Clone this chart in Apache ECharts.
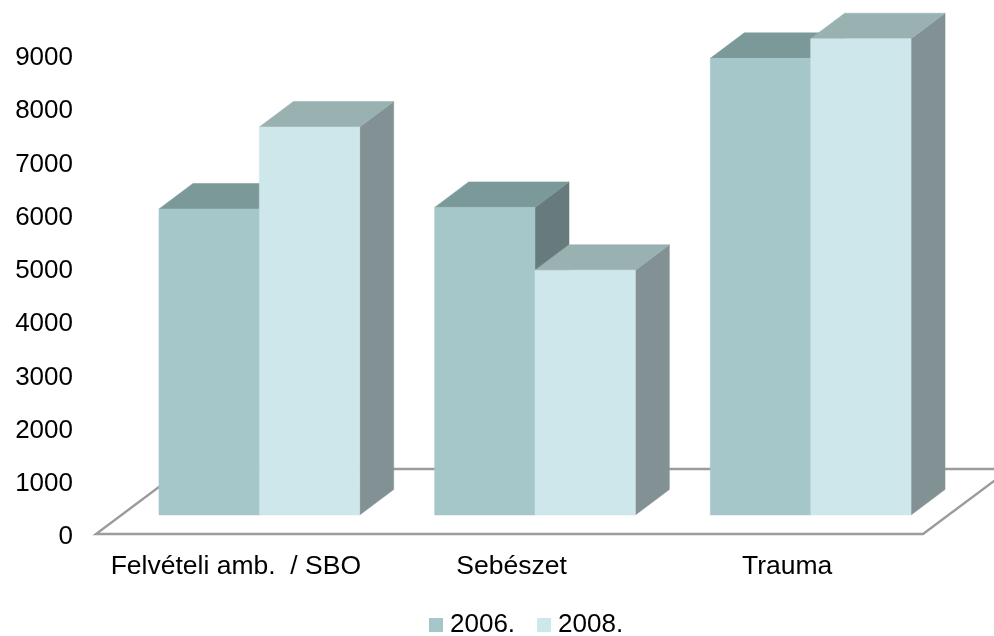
<!DOCTYPE html>
<html><head><meta charset="utf-8">
<style>html,body{margin:0;padding:0;background:#fff}#c{width:994px;height:636px}</style>
<script src="https://cdn.jsdelivr.net/npm/echarts@6/dist/echarts.min.js"></script>
</head><body><div id="c"></div>
<script>
const categories = ['Felvételi amb.  / SBO', 'Sebészet', 'Trauma'];
const values2006 = [5750, 5780, 8580];
const values2008 = [7290, 4600, 8950];
const yMax = 9000, yStep = 1000;

const depth = {dx: 34, dy: -25.5};
const floorDepth = {dx: 87, dy: -65};
const lift = {dx: 25.5, dy: -19};
const barFrac = 100.5 / 276;

function barRender(sign, colors) {
  return function (params, api) {
    const band = api.size([1, 0])[0];
    const w = band * barFrac;
    const top = api.coord([api.value(0), api.value(1)]);
    const base = api.coord([api.value(0), 0]);
    const cx = top[0] + lift.dx;
    const x0 = sign < 0 ? cx - w : cx, x1 = x0 + w;
    const yT = top[1] + lift.dy, yB = base[1] + lift.dy;
    const poly = (pts, fill) => ({type: 'polygon', shape: {points: pts},
      style: {fill, stroke: fill, lineWidth: 0.5}});
    return {type: 'group', children: [
      poly([[x1, yB], [x1 + depth.dx, yB + depth.dy], [x1 + depth.dx, yT + depth.dy], [x1, yT]], colors.side),
      poly([[x0, yT], [x1, yT], [x1 + depth.dx, yT + depth.dy], [x0 + depth.dx, yT + depth.dy]], colors.top),
      poly([[x0, yB], [x1, yB], [x1, yT], [x0, yT]], colors.front)
    ]};
  };
}

function floorRender(params, api) {
  const a = api.coord([0, 0]), b = api.coord([2, 0]);
  const band = api.size([1, 0])[0];
  const L = a[0] - band / 2, R = b[0] + band / 2, y = a[1];
  const style = {fill: 'none', stroke: '#9c9c9c', lineWidth: 2.4};
  return {type: 'group', children: [
    {type: 'polyline', shape: {points: [
      [L + floorDepth.dx, y + floorDepth.dy], [L, y], [R, y], [R + floorDepth.dx, y + floorDepth.dy]
    ]}, style},
    {type: 'line', shape: {x1: L + floorDepth.dx, y1: y + floorDepth.dy,
      x2: R + floorDepth.dx, y2: y + floorDepth.dy}, style}
  ]};
}

const chart = echarts.init(document.getElementById('c'), null, {renderer: 'canvas'});
const font = '"Liberation Sans", Arial, sans-serif';
chart.setOption({
  animation: false,
  backgroundColor: '#fff',
  grid: {left: 96, right: 71, top: 55, bottom: 102},
  legend: {
    data: ['2006.', '2008.'], left: 424, top: 607, itemWidth: 14, itemHeight: 14, itemGap: 22,
    icon: 'rect',
    textStyle: {color: '#000', fontSize: 26, fontFamily: font, padding: [2, 0, 0, 2]}
  },
  xAxis: {
    type: 'category', data: categories,
    axisLine: {show: false}, axisTick: {show: false}, splitLine: {show: false},
    axisLabel: {color: '#000', fontSize: 26.5, fontFamily: font, margin: 19, interval: 0, padding: [0, 0, 0, 4]}
  },
  yAxis: {
    type: 'value', min: 0, max: yMax, interval: yStep,
    axisLine: {show: false}, axisTick: {show: false}, splitLine: {show: false},
    axisLabel: {color: '#000', fontSize: 26, fontFamily: font, margin: 23, verticalAlign: 'top', lineHeight: 6,
      formatter: v => String(v)}
  },
  series: [
    {type: 'custom', silent: true, z: 1, clip: false, data: [[0, 0]], renderItem: floorRender, tooltip: {show: false}},
    {type: 'custom', name: '2006.', z: 2, clip: false, itemStyle: {color: '#a5c7c9'},
     data: values2006.map((v, i) => [i, v]),
     renderItem: barRender(-1, {front: '#a5c7c9', top: '#7b9999', side: '#677a7c'})},
    {type: 'custom', name: '2008.', z: 3, clip: false, itemStyle: {color: '#cee7eb'},
     data: values2008.map((v, i) => [i, v]),
     renderItem: barRender(1, {front: '#cee7eb', top: '#9ab1b2', side: '#829294'})}
  ]
});
</script></body></html>
